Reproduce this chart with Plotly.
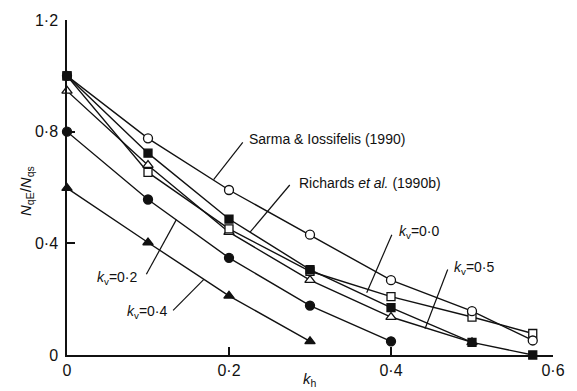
import plotly.graph_objects as go

# ---- data ----
kh = [0, 0.1, 0.2, 0.3, 0.4, 0.5, 0.575]
sarma_kv00 = [1.0, 0.776, 0.591, 0.431, 0.268, 0.157, 0.052]          # open circles
richards_kv00 = [1.0, 0.723, 0.487, 0.306, 0.170, 0.045, 0.0]         # filled squares
open_sq = [1.0, 0.654, 0.452, 0.300, 0.209, 0.136, 0.077]             # open squares
kh_kv05 = [0, 0.1, 0.2, 0.3, 0.4, 0.5]
kv05 = [0.946, 0.680, 0.440, 0.268, 0.136, 0.045]                     # open triangles
kh_kv02 = [0, 0.1, 0.2, 0.3, 0.4]
kv02 = [0.800, 0.557, 0.348, 0.177, 0.049]                            # filled circles
kh_kv04 = [0, 0.1, 0.2, 0.3]
kv04 = [0.598, 0.403, 0.212, 0.049]                                   # filled triangles

x_ticks = [0, 0.2, 0.4, 0.6]
x_ticktext = ["0", "0·2", "0·4", "0·6"]
y_ticks = [0, 0.4, 0.8, 1.2]
y_ticktext = ["0", "0·4", "0·8", "1·2"]

FONT = "Liberation Sans, Arial, Helvetica, sans-serif"
BLACK = "#111111"
LW = 1.4

fig = go.Figure()

def add(x, y, symbol, filled, size=9):
    fig.add_trace(go.Scatter(
        x=x, y=y, mode="lines+markers", cliponaxis=False,
        line=dict(color=BLACK, width=LW),
        marker=dict(symbol=symbol, size=size,
                    color=BLACK if filled else "white",
                    line=dict(color=BLACK, width=1.3)),
        showlegend=False, hoverinfo="skip"))

add(kh_kv04, kv04, "triangle-up", True, 9)
add(kh_kv02, kv02, "circle", True, 9)
add(kh_kv05, kv05, "triangle-up", False, 9)
add(kh, open_sq, "square", False, 8)
add(kh, sarma_kv00, "circle", False, 9)
add(kh, richards_kv00, "square", True, 8)

# ---- callout leaders & labels ----
leaders = [
    ((0.217, 0.762), (0.181, 0.628)),
    ((0.275, 0.609), (0.226, 0.440)),
    ((0.401, 0.431), (0.370, 0.223)),
    ((0.470, 0.306), (0.442, 0.094)),
    ((0.098, 0.289), (0.135, 0.485)),
    ((0.131, 0.160), (0.169, 0.271)),
]
for (x0, y0), (x1, y1) in leaders:
    fig.add_shape(type="line", x0=x0, y0=y0, x1=x1, y1=y1, xref="x", yref="y",
                  line=dict(color=BLACK, width=1.2))

labels = [
    (0.222, 0.772, "Sarma &amp; Iossifelis (1990)", "left"),
    (0.284, 0.616, "Richards <i>et al.</i> (1990b)", "left"),
    (0.407, 0.442, "<i>k</i><sub>v</sub>=0·0", "left"),
    (0.475, 0.310, "<i>k</i><sub>v</sub>=0·5", "left"),
    (0.090, 0.275, "<i>k</i><sub>v</sub>=0·2", "right"),
    (0.127, 0.153, "<i>k</i><sub>v</sub>=0·4", "right"),
]
for x, y, t, anc in labels:
    fig.add_annotation(x=x, y=y, xref="x", yref="y", text=t, showarrow=False,
                       xanchor=anc, yanchor="middle",
                       font=dict(family=FONT, size=14, color=BLACK))

# axis titles
fig.add_annotation(x=-0.082, y=0.49, xref="paper", yref="paper",
                   text="<i>N</i><sub>qE</sub>/<i>N</i><sub>qs</sub>", textangle=-90,
                   showarrow=False, xanchor="center", yanchor="middle",
                   font=dict(family=FONT, size=15, color=BLACK))
fig.add_annotation(x=0.5, y=-0.072, xref="paper", yref="paper",
                   text="<i>k</i><sub>h</sub>", showarrow=False,
                   xanchor="center", yanchor="middle",
                   font=dict(family=FONT, size=15, color=BLACK))

axis_common = dict(showgrid=False, zeroline=False, showline=True, linecolor=BLACK,
                   linewidth=1.5, ticks="inside", ticklen=8, tickwidth=1.5,
                   tickcolor=BLACK, tickfont=dict(family=FONT, size=16, color=BLACK))

fig.update_xaxes(range=[0, 0.6], tickvals=x_ticks, ticktext=x_ticktext, **axis_common)
fig.update_yaxes(range=[0, 1.2], tickvals=y_ticks, ticktext=y_ticktext,
                 ticklabelstandoff=4, **axis_common)

fig.update_layout(width=577, height=391, margin=dict(l=67, r=24, t=14, b=32),
                  paper_bgcolor="white", plot_bgcolor="white",
                  font=dict(family=FONT, color=BLACK))

fig.write_html("out.html")
